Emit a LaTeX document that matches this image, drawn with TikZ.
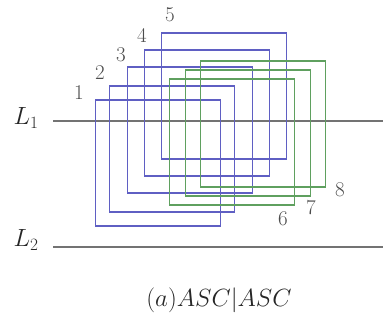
\documentclass[tikz,border=0pt]{standalone}
\usetikzlibrary{positioning}
\definecolor{sqblue}{RGB}{95,95,195}
\definecolor{sqgreen}{RGB}{95,160,95}
\definecolor{lvgray}{RGB}{115,115,115}
\begin{document}
\begin{tikzpicture}[x=1pt,y=-1pt,
  sq/.style={rectangle,draw,line width=1.9pt,minimum width=125pt,minimum height=126pt,inner sep=0pt},
  bsq/.style={sq,draw=sqblue},
  gsq/.style={sq,draw=sqgreen},
  num/.style={text=black!70,font=\fontsize{21}{24}\selectfont,inner sep=0pt},
  lvl/.style={text=black!85,font=\fontsize{24}{28}\selectfont,inner sep=0pt},
  lvline/.style={draw=lvgray,line width=1.7pt}]
\useasboundingbox (0,0) rectangle (383,320);
% levels
\node[lvl] (l1) at (26,118) {$L_1$};
\node[lvl] (l2) at (26,240) {$L_2$};
\coordinate (l1a) at (53,121);
\coordinate (l1b) at (383,121);
\coordinate (l2a) at (53,247);
\coordinate (l2b) at (383,247);
\draw[lvline] (l1a) -- (l1b);
\draw[lvline] (l2a) -- (l2b);
% blue squares
\foreach \i/\cx/\cy/\lx/\ly in {1/158/163/79/93, 2/172/149/100/73, 3/190/130/121/55, 4/207/113/142/35, 5/224/96/170/15}{
  \node[bsq] (s\i) at (\cx,\cy) {};
  \node[num] (n\i) at (\lx,\ly) {\i};
}
% green squares
\foreach \i/\cx/\cy/\lx/\ly in {6/232/142/283/219, 7/248/133/311/208, 8/263/124/340/190}{
  \node[gsq] (s\i) at (\cx,\cy) {};
  \node[num] (n\i) at (\lx,\ly) {\i};
}
% caption
\node[lvl] (cap) at (219,300) {$(a) ASC|ASC$};
\end{tikzpicture}
\end{document}
